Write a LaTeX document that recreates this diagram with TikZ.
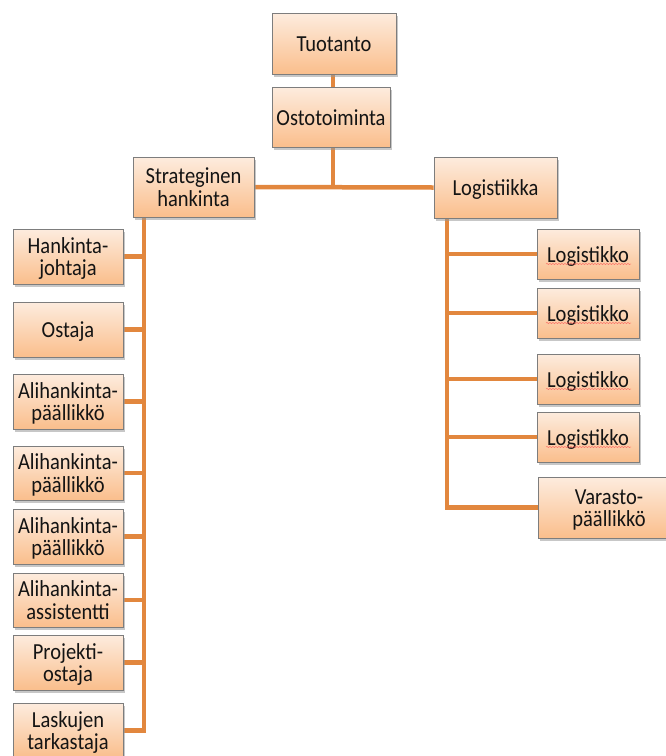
\documentclass[tikz,border=0pt]{standalone}
\usepackage{fontspec}
\usepackage{graphicx}
\setmainfont{Carlito}
\usetikzlibrary{shadows,backgrounds,decorations.pathmorphing}

\definecolor{boxtop}{RGB}{253,236,222}
\definecolor{boxbot}{RGB}{250,190,140}
\definecolor{boxline}{RGB}{125,125,125}
\definecolor{linkc}{RGB}{226,135,62}

\tikzset{
  orgbox/.style={draw=boxline, line width=0.9pt, top color=boxtop, bottom color=boxbot,
    drop shadow={shadow xshift=2pt, shadow yshift=-2.5pt, fill=black!40, opacity=0.55},
    align=center, inner sep=0pt, text=black!92,
    font=\fontsize{20.5}{20}\selectfont},
  linkline/.style={draw=linkc, line width=4.5pt},
  squiggle/.style={draw=red!70, line width=0.4pt, decorate,
    decoration={snake, amplitude=0.5pt, segment length=3pt}}
}

% labels are set a little taller than wide, and sit slightly low in the box
\newcommand\tallcell[1]{\raisebox{-3.5pt}[\height][\depth]{%
  \scalebox{1}[1.12]{\begin{tabular}{@{}c@{}}#1\end{tabular}}}}

% \orgnode{name}{left}{top}{right}{bottom}{text}, in pixels, y pointing down
\newcommand\orgnode[6]{%
  \node[orgbox, minimum width=#4pt-#2pt, minimum height=#5pt-#3pt]
    (#1) at ({(#2+#4)/2},{(#3+#5)/2}) {\tallcell{#6}};}

\begin{document}
\begin{tikzpicture}[x=1pt, y=-1pt]
\useasboundingbox (0,0) rectangle (666,756);

% top of the chart
\orgnode{tuo}{272}{13}{396}{74}{Tuotanto}
\orgnode{osto}{272}{87}{390}{147}{Ostotoiminta}
\orgnode{strat}{133}{157}{254}{217}{Strateginen\\hankinta}
\orgnode{logi}{434}{157}{557}{218}{Logistiikka}

% procurement branch
\orgnode{hj}{13}{229}{123}{284}{Hankinta-\\johtaja}
\orgnode{ost}{13}{302}{123}{357}{Ostaja}
\orgnode{ap1}{13}{374}{123}{429}{Alihankinta-\\päällikkö}
\orgnode{ap2}{13}{446}{123}{500}{Alihankinta-\\päällikkö}
\orgnode{ap3}{13}{509}{123}{564}{Alihankinta-\\päällikkö}
\orgnode{aa}{13}{573}{123}{627}{Alihankinta-\\assistentti}
\orgnode{po}{13}{635}{123}{690}{Projekti-\\ostaja}
\orgnode{lt}{13}{703}{123}{758}{Laskujen\\tarkastaja}

% logistics branch
\orgnode{lg1}{537}{229}{639}{279}{Logistikko}
\orgnode{lg2}{537}{288}{639}{338}{Logistikko}
\orgnode{lg3}{537}{354}{639}{404}{Logistikko}
\orgnode{lg4}{537}{412}{639}{462}{Logistikko}
\orgnode{vp}{538}{477}{680}{538}{Varasto-\\päällikkö}

% spelling marks under the Logistikko labels
\foreach \n in {lg1,lg2,lg3,lg4}
  \draw[squiggle] ([xshift=-42pt,yshift=-10pt]\n.center) -- ([xshift=43pt,yshift=-10pt]\n.center);

\coordinate (junc) at (333,187);
\coordinate (ltrunk) at (144,217);
\coordinate (rtrunk) at (447,218);

\begin{scope}[on background layer]
  \draw[linkline] (tuo.south -| junc) -- (osto.north -| junc);
  \draw[linkline] (osto.south -| junc) -- (junc);
  \draw[linkline] (strat.east) -- (logi.west);

  \draw[linkline] (strat.south -| ltrunk) |- (lt.east);
  \foreach \n in {hj,ost,ap1,ap2,ap3,aa,po}
    \draw[linkline] (\n.east) -- (\n.east -| ltrunk);

  \draw[linkline] (logi.south -| rtrunk) |- (vp.west);
  \foreach \n in {lg1,lg2,lg3,lg4}
    \draw[linkline] (\n.west) -- (\n.west -| rtrunk);
\end{scope}
\end{tikzpicture}
\end{document}
